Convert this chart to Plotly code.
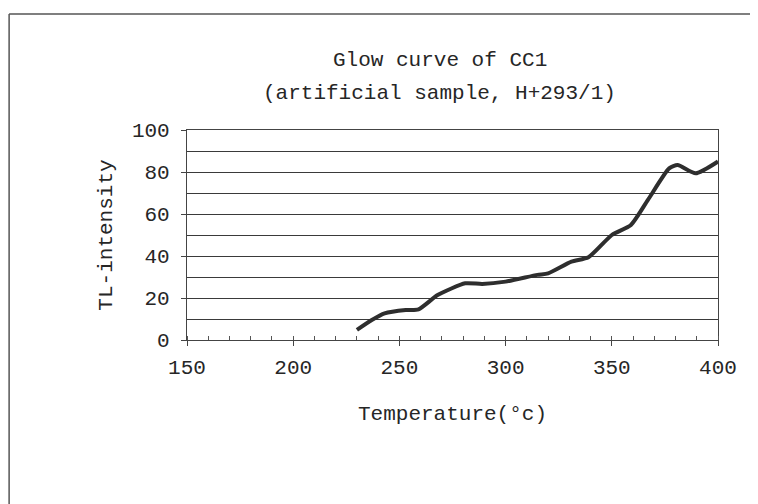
import plotly.graph_objects as go

# glow curve
temperature = [230, 237, 243, 253, 259, 268, 281, 289, 300, 315, 320, 331, 339,
               350, 359, 367, 377, 381, 389.5, 400]
intensity = [4.8, 9.5, 12.7, 14.3, 14.6, 21.4, 27, 26.7, 27.8, 31, 31.7, 37.3, 39.4,
             50, 54.8, 66.7, 81.7, 83.3, 79.4, 85]

x_ticks = [150, 200, 250, 300, 350, 400]
y_ticks = [0, 20, 40, 60, 80, 100]

title_lines = ["Glow curve of CC1", "(artificial sample, H+293/1)"]

FONT = "Liberation Mono, Courier New, monospace"
INK = "#262626"

fig = go.Figure()

fig.add_trace(
    go.Scatter(
        x=temperature,
        y=intensity,
        mode="lines",
        line=dict(color="#2e2e2e", width=4, shape="spline", smoothing=0.6),
        showlegend=False,
    )
)

# page frame (top and left edge of the scanned box)
fig.add_shape(type="line", xref="paper", yref="paper",
              x0=-0.335, x1=1.2, y0=1.552, y1=1.552,
              line=dict(color="#555", width=1.5))
fig.add_shape(type="line", xref="paper", yref="paper",
              x0=-0.335, x1=-0.335, y0=1.552, y1=-0.9,
              line=dict(color="#555", width=1.5))

# two-line title, placed separately for the wider line spacing
for text, ty in zip(title_lines, [1.333, 1.176]):
    fig.add_annotation(
        text=text, xref="paper", yref="paper", x=0.476, y=ty,
        xanchor="center", yanchor="middle", showarrow=False,
        font=dict(family=FONT, size=21, color=INK),
    )

fig.update_layout(
    width=750,
    height=496,
    margin=dict(l=179, r=40, t=122, b=164, autoexpand=False),
    paper_bgcolor="white",
    plot_bgcolor="white",
    font=dict(family=FONT, color=INK, size=21),
    xaxis=dict(
        range=[150, 400],
        tickvals=x_ticks,
        ticks="outside",
        ticklen=5,
        tickcolor="#444",
        ticklabelstandoff=3,
        minor=dict(dtick=10, ticks="inside", ticklen=4, tickcolor="#555", showgrid=False),
        showgrid=False,
        zeroline=False,
        showline=True,
        linecolor="#444",
        linewidth=1.2,
        mirror=True,
        tickfont=dict(size=21),
        title=dict(text="Temperature(°c)", standoff=26, font=dict(size=21)),
        automargin=False,
    ),
    yaxis=dict(
        range=[0, 100],
        tickvals=y_ticks,
        ticks="outside",
        ticklen=5,
        tickcolor="#444",
        ticklabelstandoff=7,
        minor=dict(dtick=10, showgrid=True, gridcolor="#3a3a3a", gridwidth=1),
        showgrid=True,
        gridcolor="#3a3a3a",
        gridwidth=1,
        zeroline=False,
        showline=True,
        linecolor="#444",
        linewidth=1.2,
        mirror=True,
        tickfont=dict(size=21),
        title=dict(text="TL-intensity", standoff=13, font=dict(size=21)),
        automargin=False,
    ),
)

fig.write_html("out.html")
